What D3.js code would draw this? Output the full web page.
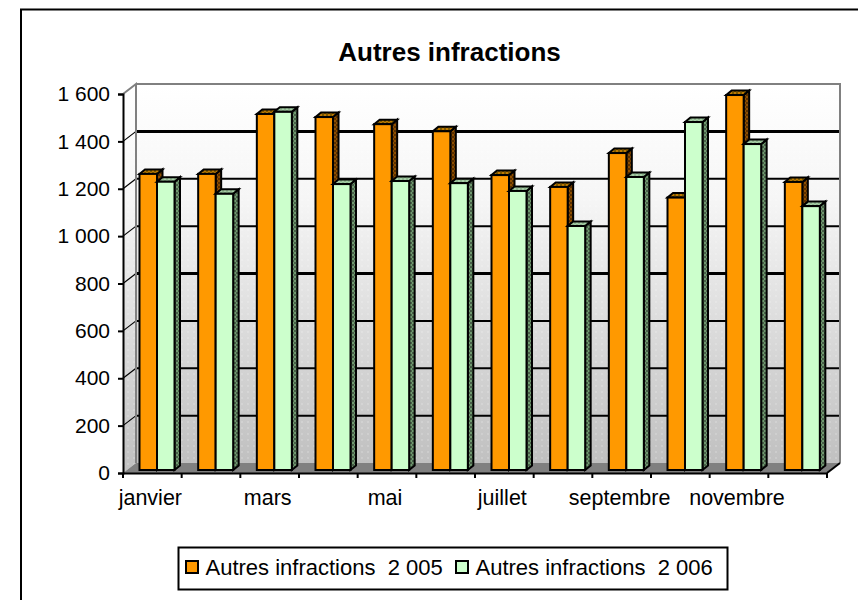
<!DOCTYPE html>
<html>
<head>
<meta charset="utf-8">
<script src="https://cdnjs.cloudflare.com/ajax/libs/d3/7.8.5/d3.min.js"></script>
<style>
  body { margin: 0; background: #fff; }
  text { font-family: "Liberation Sans", Arial, sans-serif; fill: #000; }
</style>
</head>
<body>
<div id="chart"></div>
<script>
var months = ['janvier', 'février', 'mars', 'avril', 'mai', 'juin', 'juillet', 'août', 'septembre', 'octobre', 'novembre', 'décembre'];
var values2005 = [1250, 1250, 1503, 1490, 1460, 1430, 1245, 1195, 1338, 1150, 1583, 1216];
var values2006 = [1217, 1166, 1512, 1207, 1220, 1211, 1178, 1030, 1237, 1469, 1376, 1114];
var seriesNames = ['Autres infractions  2 005', 'Autres infractions  2 006'];
var yTicks = [0, 200, 400, 600, 800, 1000, 1200, 1400, 1600];
var thickGrid = [800, 1400];

var width = 858, height = 600;
var depthX = 13, depthY = 10;       // chart box depth
var barDX = 5.5, barDY = 4.5;       // bar depth
var barLift = 3, barInset = 16.5;

var svg = d3.select('#chart').append('svg')
  .attr('width', width)
  .attr('height', height)
  .style('display', 'block');

var defs = svg.append('defs');

var wallGrad = defs.append('linearGradient')
  .attr('id', 'wall-grad')
  .attr('x1', 0).attr('y1', 0).attr('x2', 0).attr('y2', 1);
wallGrad.append('stop').attr('offset', '0%').attr('stop-color', '#ffffff');
wallGrad.append('stop').attr('offset', '30%').attr('stop-color', '#f6f6f6');
wallGrad.append('stop').attr('offset', '100%').attr('stop-color', '#c0c0c0');

function checker(id, a, b) {
  var p = defs.append('pattern')
    .attr('id', id)
    .attr('width', 4).attr('height', 4)
    .attr('patternUnits', 'userSpaceOnUse');
  p.append('rect').attr('width', 4).attr('height', 4).attr('fill', a);
  p.append('rect').attr('width', 2).attr('height', 2).attr('fill', b);
  p.append('rect').attr('x', 2).attr('y', 2).attr('width', 2).attr('height', 2).attr('fill', b);
}
checker('side-0', '#8f4f00', '#5a3000');
checker('top-0', '#c07800', '#7a5a00');
checker('side-1', '#6f9a6f', '#4a5f4a');
checker('top-1', '#a6cfa6', '#8fb58f');

var dots = defs.append('pattern')
  .attr('id', 'wall-dots')
  .attr('width', 6).attr('height', 6)
  .attr('patternUnits', 'userSpaceOnUse');
dots.append('rect').attr('x', 1).attr('y', 1).attr('width', 2).attr('height', 2)
  .attr('fill', '#fff').attr('opacity', 0.16);

var x = d3.scaleBand().domain(months).range([123, 827]);
var y = d3.scaleLinear().domain([0, 1600]).range([473, 94]);
var series = d3.scaleBand().domain([0, 1]).range([0, 35]);

// outer frame, runs off the right and bottom of the picture
svg.append('path')
  .attr('d', d3.line()([[21, 600], [21, 9.5], [858, 9.5]]))
  .attr('fill', 'none')
  .attr('stroke', '#000')
  .attr('stroke-width', 2);

svg.append('text')
  .attr('x', 449.5)
  .attr('y', 61)
  .attr('text-anchor', 'middle')
  .attr('font-size', 26)
  .attr('font-weight', 'bold')
  .text('Autres infractions');

// box: back wall, side wall, floor
var left = x.range()[0], right = x.range()[1];

var backWall = [[left + depthX, y(1600) - depthY], [right + depthX, y(1600) - depthY], [right + depthX, y(0) - depthY], [left + depthX, y(0) - depthY]];
var sideWall = [[left, y(1600)], [left + depthX, y(1600) - depthY], [left + depthX, y(0) - depthY], [left, y(0)]];
var floor = [[left + depthX, y(0) - depthY], [right + depthX, y(0) - depthY], [right, y(0)], [left, y(0)]];
var poly = d3.line().curve(d3.curveLinearClosed);

svg.append('path').attr('d', poly(sideWall)).attr('fill', 'url(#wall-grad)');
svg.append('path').attr('d', poly(backWall)).attr('fill', 'url(#wall-grad)');
svg.append('path').attr('d', poly(sideWall)).attr('fill', 'url(#wall-dots)');
svg.append('path').attr('d', poly(backWall)).attr('fill', 'url(#wall-dots)');
svg.append('path').attr('d', poly(floor)).attr('fill', '#808080');

// gridlines on the back wall and the diagonal on the side wall
var grid = svg.append('g');
grid.selectAll('.grid')
  .data(yTicks.filter(function (d) { return d > 0 && d < 1600; }))
  .enter().append('line')
  .attr('class', 'grid')
  .attr('x1', left + depthX)
  .attr('x2', right + depthX)
  .attr('y1', function (d) { return y(d) - depthY; })
  .attr('y2', function (d) { return y(d) - depthY; })
  .attr('stroke', '#000')
  .attr('stroke-width', function (d) { return thickGrid.indexOf(d) >= 0 ? 3 : 2; });
grid.selectAll('.diag')
  .data(yTicks.filter(function (d) { return d > 0 && d < 1600; }))
  .enter().append('line')
  .attr('class', 'diag')
  .attr('x1', left)
  .attr('x2', left + depthX)
  .attr('y1', function (d) { return y(d); })
  .attr('y2', function (d) { return y(d) - depthY; })
  .attr('stroke', '#000')
  .attr('stroke-width', 1.2);

// grey edge of the wall
svg.append('path')
  .attr('d', d3.line()([[left, y(1600)], [left + depthX, y(1600) - depthY], [left + depthX, y(0) - depthY]]))
  .attr('fill', 'none').attr('stroke', '#808080').attr('stroke-width', 2);
svg.append('path')
  .attr('d', d3.line()([[left + depthX, y(1600) - depthY], [right + depthX, y(1600) - depthY], [right + depthX, y(0) - depthY]]))
  .attr('fill', 'none').attr('stroke', '#808080').attr('stroke-width', 2);
svg.append('line')
  .attr('x1', right).attr('y1', y(0))
  .attr('x2', right + depthX).attr('y2', y(0) - depthY)
  .attr('stroke', '#000').attr('stroke-width', 2);

// bars
var colors = ['#ff9900', '#ccffcc'];
var seriesValues = [values2005, values2006];
var monthG = svg.append('g').selectAll('g')
  .data(months)
  .enter().append('g');

[0, 1].forEach(function (s) {
  var bar = monthG.append('g')
    .datum(function (d, i) { return { month: d, value: seriesValues[s][i] }; });
  var bx = function (d) { return x(d.month) + barInset + series(s); };
  var top = function (d) { return y(d.value) - barLift; };
  var bw = series.bandwidth();

  bar.append('path')
    .attr('d', function (d) {
      var x0 = bx(d), t = top(d);
      return poly([[x0 + bw, t], [x0 + bw + barDX, t - barDY], [x0 + bw + barDX, y(0) - barLift - barDY], [x0 + bw, y(0) - barLift]]);
    })
    .attr('fill', 'url(#side-' + s + ')')
    .attr('stroke', '#000').attr('stroke-width', 2);
  bar.append('path')
    .attr('d', function (d) {
      var x0 = bx(d), t = top(d);
      return poly([[x0, t], [x0 + barDX, t - barDY], [x0 + bw + barDX, t - barDY], [x0 + bw, t]]);
    })
    .attr('fill', 'url(#top-' + s + ')')
    .attr('stroke', '#000').attr('stroke-width', 2);
  bar.append('rect')
    .attr('x', bx)
    .attr('y', top)
    .attr('width', bw)
    .attr('height', function (d) { return y(0) - y(d.value); })
    .attr('fill', colors[s])
    .attr('stroke', '#000').attr('stroke-width', 2);
});

// axes
var yAxis = svg.append('g')
  .attr('transform', 'translate(' + left + ',0)')
  .call(d3.axisLeft(y)
    .tickValues(yTicks)
    .tickSize(5)
    .tickPadding(8)
    .tickFormat(function (d) { return d3.format(',')(d).replace(',', ' '); }));
yAxis.selectAll('text').attr('font-size', 21).style('font-family', '"Liberation Sans", Arial, sans-serif');

var xAxis = svg.append('g')
  .attr('transform', 'translate(0,' + y(0) + ')')
  .call(d3.axisBottom(x)
    .tickSize(0)
    .tickPadding(17)
    .tickFormat(function (d, i) { return i % 2 ? '' : d; }));
xAxis.selectAll('text')
  .attr('font-size', 21.5)
  .attr('dx', -2)
  .style('font-family', '"Liberation Sans", Arial, sans-serif');
xAxis.selectAll('.boundary')
  .data(months.concat(['end']))
  .enter().append('line')
  .attr('class', 'boundary')
  .attr('x1', function (d, i) { return left + i * x.step(); })
  .attr('x2', function (d, i) { return left + i * x.step(); })
  .attr('y1', 0)
  .attr('y2', 5)
  .attr('stroke', '#000')
  .attr('stroke-width', 2);
svg.selectAll('.domain').attr('stroke', '#000').attr('stroke-width', 2);
yAxis.selectAll('.tick line').attr('stroke-width', 2);

// legend
var legend = svg.append('g');
legend.append('rect')
  .attr('x', 178.5).attr('y', 547.5)
  .attr('width', 549).attr('height', 42)
  .attr('fill', '#fff').attr('stroke', '#000').attr('stroke-width', 2);
var legendX = [186, 456];
seriesNames.forEach(function (name, i) {
  legend.append('rect')
    .attr('x', legendX[i]).attr('y', 561)
    .attr('width', 12).attr('height', 12)
    .attr('fill', colors[i]).attr('stroke', '#000').attr('stroke-width', 2);
  legend.append('text')
    .attr('x', legendX[i] + 19.5).attr('y', 575)
    .attr('font-size', 22)
    .attr('xml:space', 'preserve')
    .style('white-space', 'pre')
    .text(name);
});
</script>
</body>
</html>
